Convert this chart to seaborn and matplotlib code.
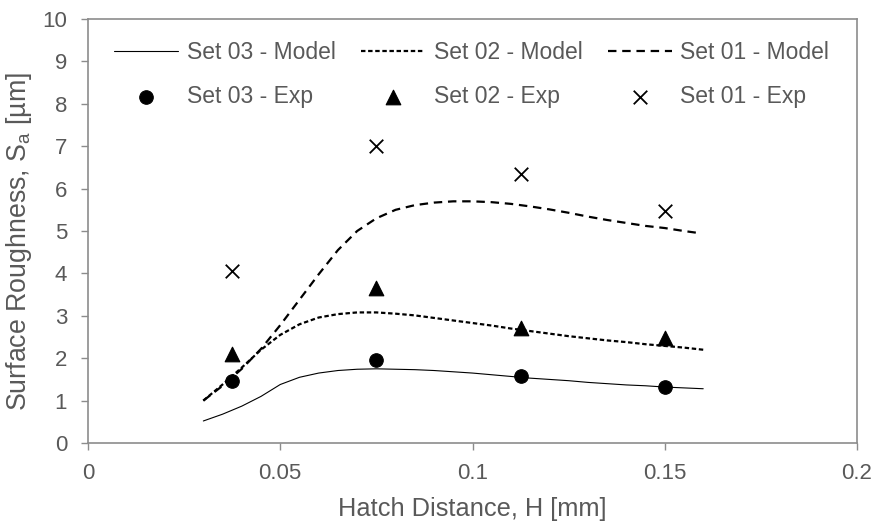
import matplotlib
matplotlib.use("Agg")
import matplotlib.pyplot as plt
import seaborn as sns
import numpy as np
import pandas as pd

# ---- data ----
exp_x = [0.0375, 0.075, 0.1125, 0.15]
set01_exp = [4.05, 7.0, 6.35, 5.47]
set02_exp = [2.10, 3.65, 2.72, 2.47]
set03_exp = [1.47, 1.95, 1.57, 1.33]

model_x = [0.030, 0.035, 0.040, 0.045, 0.050, 0.055, 0.060, 0.065, 0.070, 0.075,
           0.080, 0.085, 0.090, 0.095, 0.100, 0.105, 0.110, 0.115, 0.120, 0.125,
           0.130, 0.135, 0.140, 0.145, 0.150, 0.155, 0.159]
set01_model = [1.00, 1.35, 1.75, 2.22, 2.78, 3.38, 3.98, 4.55, 5.00, 5.30,
               5.50, 5.61, 5.67, 5.70, 5.70, 5.68, 5.64, 5.58, 5.51, 5.43,
               5.34, 5.26, 5.19, 5.12, 5.07, 5.00, 4.95]
model_x2 = [0.030, 0.035, 0.040, 0.045, 0.050, 0.055, 0.060, 0.065, 0.070, 0.075,
            0.080, 0.085, 0.090, 0.095, 0.100, 0.105, 0.110, 0.115, 0.120, 0.125,
            0.130, 0.135, 0.140, 0.145, 0.150, 0.155, 0.160]
set02_model = [1.00, 1.38, 1.78, 2.20, 2.55, 2.80, 2.96, 3.04, 3.08, 3.08,
               3.05, 3.01, 2.95, 2.89, 2.83, 2.77, 2.70, 2.64, 2.58, 2.52,
               2.47, 2.42, 2.38, 2.33, 2.29, 2.25, 2.20]
set03_model = [0.52, 0.68, 0.87, 1.10, 1.38, 1.55, 1.65, 1.71, 1.74, 1.75,
               1.74, 1.73, 1.71, 1.68, 1.65, 1.61, 1.57, 1.53, 1.50, 1.47,
               1.43, 1.40, 1.37, 1.35, 1.32, 1.30, 1.28]

x_ticks = [0, 0.05, 0.1, 0.15, 0.2]
x_ticklabels = ["0", "0.05", "0.1", "0.15", "0.2"]
y_ticks = list(range(0, 11))

# ---- style ----
sns.set_style("white")
plt.rcParams['font.family'] = ['Liberation Sans', 'DejaVu Sans']
TXT = '#595959'
GRID = '#8c8c8c'

fig = plt.figure(figsize=(8.79, 5.22), dpi=100)
ax = fig.add_axes([0.1001, 0.1513, 0.8749, 0.8123])

sns.lineplot(x=model_x2, y=set03_model, ax=ax, color='black', lw=0.8,
             label='Set 03 - Model')
sns.lineplot(x=model_x2, y=set02_model, ax=ax, color='black', lw=1.6,
             label='Set 02 - Model')
ax.lines[-1].set_dashes((2.0, 1.2))
sns.lineplot(x=model_x, y=set01_model, ax=ax, color='black', lw=1.6,
             label='Set 01 - Model')
ax.lines[-1].set_dashes((3.8, 2.6))

sns.scatterplot(x=exp_x, y=set03_exp, ax=ax, color='black', marker='o', s=95,
                edgecolor='black', label='Set 03 - Exp', zorder=5)
sns.scatterplot(x=exp_x, y=set02_exp, ax=ax, color='black', marker='^', s=110,
                edgecolor='black', label='Set 02 - Exp', zorder=5)
sns.scatterplot(x=exp_x, y=set01_exp, ax=ax, color='black', marker='x', s=95,
                linewidth=1.3, label='Set 01 - Exp', zorder=5)

ax.set_xlim(0, 0.2)
ax.set_ylim(0, 10)
ax.set_xticks(x_ticks)
ax.set_xticklabels(x_ticklabels)
ax.set_yticks(y_ticks)

for s in ax.spines.values():
    s.set_visible(True)
    s.set_color(GRID)
    s.set_linewidth(1.2)
ax.tick_params(axis='both', which='major', direction='out', length=5, width=1.0,
               color=GRID, labelsize=16, labelcolor=TXT, left=True, bottom=True)
ax.tick_params(axis='y', pad=10)
ax.tick_params(axis='x', pad=9.5)

ax.set_xlabel('Hatch Distance, H [mm]', fontsize=18.3, color=TXT, labelpad=9.0)
ax.set_ylabel(r'Surface Roughness, S$_\mathregular{a}$ [µm]', fontsize=19.3, color=TXT)
ax.yaxis.set_label_coords(-0.070, 0.476)

handles, labels = ax.get_legend_handles_labels()
order = ['Set 03 - Model', 'Set 03 - Exp', 'Set 02 - Model', 'Set 02 - Exp',
         'Set 01 - Model', 'Set 01 - Exp']
hmap = dict(zip(labels, handles))
leg = ax.legend([hmap[l] for l in order], order, ncol=3, loc='upper left',
                bbox_to_anchor=(0.0335, 0.948), frameon=False, fontsize=16.5,
                handlelength=2.8, handletextpad=0.38, columnspacing=1.1,
                labelspacing=0.93, borderpad=0, borderaxespad=0)
for t in leg.get_texts():
    t.set_color(TXT)

fig.savefig('out.png', dpi=100)
